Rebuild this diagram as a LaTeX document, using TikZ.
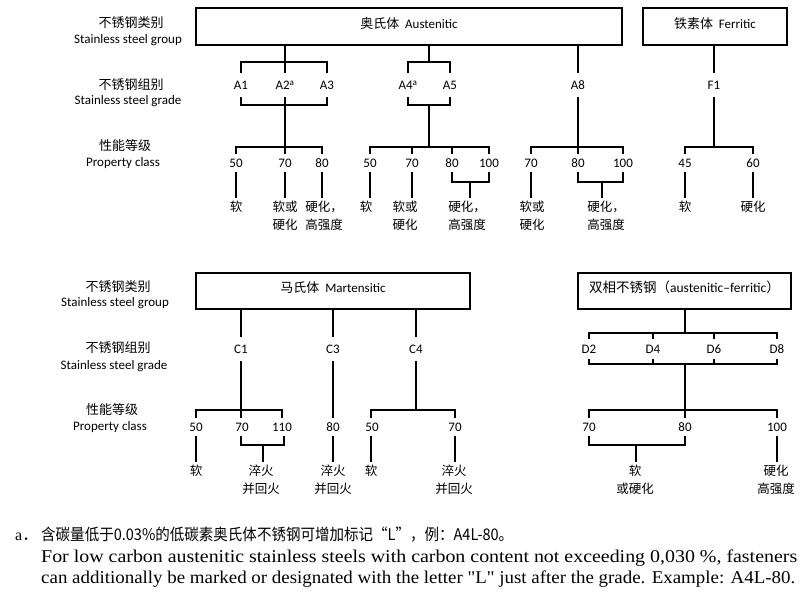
\documentclass[tikz,border=0pt]{standalone}
\usepackage{fontspec}
\usepackage{graphicx}
\setmainfont{Carlito}
\newfontfamily\cjk{Noto Sans CJK SC}
\newfontfamily\fnserif{Liberation Serif}
\begin{document}
\begin{tikzpicture}[x=1pt,y=-1pt,
  lbl/.style={inner sep=0pt, text height=9pt, text depth=2.5pt, font=\fontsize{13}{15}\selectfont},
  cn/.style={inner sep=0pt, font=\cjk\fontsize{13}{15}\selectfont},
  grp/.style={draw, line width=2.6pt, inner sep=0pt, minimum height=37pt, text height=6pt, text depth=3pt, font=\fontsize{13}{15}\selectfont},
  grade/.style={inner sep=0pt, text height=9pt, text depth=0pt, minimum height=24pt, font=\fontsize{13}{15}\selectfont},
  gradeD/.style={grade, minimum height=20pt},
  pc/.style={inner sep=0pt, text height=9pt, text depth=0pt, minimum height=18pt, font=\fontsize{13}{15}\selectfont},
  desc/.style={anchor=north, inner xsep=0pt, inner ysep=3pt, align=center, font=\cjk\fontsize{12.5}{18}\selectfont},
  ln/.style={line width=2pt},
  fn/.style={anchor=base west, inner sep=0pt},
]
\useasboundingbox[fill=white] (0,0) rectangle (800,592);

% ---------- row labels, top ----------
\node[cn]  (g1c) at (131,23)  {不锈钢类别};
\node[lbl] (g1e) at (128,40)  {Stainless steel group};
\node[cn]  (r1c) at (131,85)  {不锈钢组别};
\node[lbl] (r1e) at (128,101) {Stainless steel grade};
\node[cn]  (p1c) at (125,146) {性能等级};
\node[lbl] (p1e) at (123,163) {Property class};

% ---------- group boxes, top ----------
\node[grp, minimum width=426pt] (aus) at (409,26.5) {{\cjk 奥氏体}\hspace{0.45em}Austenitic};
\node[grp, minimum width=144pt] (fer) at (715,26.5) {{\cjk 铁素体}\hspace{0.45em}Ferritic};

% bracket levels
\coordinate (t1) at (0,62);
\coordinate (t2) at (0,105);
\coordinate (t3) at (0,147);
\coordinate (t4) at (0,182);

% grades
\node[grade] (A1) at (241,85) {A1};
\node[grade] (A2) at (285,85) {A2\textsuperscript{a}};
\node[grade] (A3) at (327,85) {A3};
\node[grade] (A4) at (408,85) {A4\textsuperscript{a}};
\node[grade] (A5) at (450,85) {A5};
\node[grade] (A8) at (578,85) {A8};
\node[grade] (F1) at (714,85) {F1};

% property classes
\node[pc] (P1a) at (236,163) {50};
\node[pc] (P1b) at (285,163) {70};
\node[pc] (P1c) at (322,163) {80};
\node[pc] (P2a) at (370,163) {50};
\node[pc] (P2b) at (412,163) {70};
\node[pc] (P2c) at (452,163) {80};
\node[pc] (P2d) at (489,163) {100};
\node[pc] (P3a) at (531,163) {70};
\node[pc] (P3b) at (578,163) {80};
\node[pc] (P3c) at (623,163) {100};
\node[pc] (P4a) at (685,163) {45};
\node[pc] (P4b) at (753,163) {60};

% descriptions
\node[desc] (D1a) at (236,198) {软};
\node[desc] (D1b) at (285,198) {软或\\硬化};
\node[desc] (D1c) at (324,198) {硬化，\\高强度};
\node[desc] (D2a) at (366,198) {软};
\node[desc] (D2b) at (405,198) {软或\\硬化};
\node[desc] (D2c) at (467,198) {硬化，\\高强度};
\node[desc] (D3a) at (532,198) {软或\\硬化};
\node[desc] (D3b) at (606,198) {硬化，\\高强度};
\node[desc] (D4a) at (685,198) {软};
\node[desc] (D4b) at (753,198) {硬化};

% connectors: A1 A2 A3
\draw[ln] (aus.south -| A2) -- (A2.north);
\draw[ln] (A1.north) -- (A1 |- t1) -- (A3 |- t1) -- (A3.north);
\draw[ln] (A1.south) -- (A1 |- t2) -- (A3 |- t2) -- (A3.south);
\draw[ln] (A2.south) -- (P1b.north);
\draw[ln] (P1a.north) -- (P1a |- t3) -- (P1c |- t3) -- (P1c.north);
\draw[ln] (P1a.south) -- (D1a.north);
\draw[ln] (P1b.south) -- (D1b.north);
\draw[ln] (P1c.south) -- (P1c.south |- D1c.north);

% connectors: A4 A5
\coordinate (s2) at (429,62);
\draw[ln] (aus.south -| s2) -- (s2);
\draw[ln] (A4.north) -- (A4 |- t1) -- (A5 |- t1) -- (A5.north);
\draw[ln] (A4.south) -- (A4 |- t2) -- (A5 |- t2) -- (A5.south);
\draw[ln] (s2 |- t2) -- (s2 |- t3);
\draw[ln] (P2a.north) -- (P2a |- t3) -- (P2d |- t3) -- (P2d.north);
\draw[ln] (P2b.north) -- (P2b |- t3);
\draw[ln] (P2c.north) -- (P2c |- t3);
\draw[ln] (P2c.south) -- (P2c |- t4) -- (P2d |- t4) -- (P2d.south);
\coordinate (s2b) at (470,182);
\draw[ln] (P2a.south) -- (P2a.south |- D2a.north);
\draw[ln] (P2b.south) -- (P2b.south |- D2b.north);
\draw[ln] (s2b) -- (s2b |- D2c.north);

% connectors: A8
\draw[ln] (aus.south -| A8) -- (A8.north);
\draw[ln] (A8.south) -- (P3b.north);
\draw[ln] (P3a.north) -- (P3a |- t3) -- (P3c |- t3) -- (P3c.north);
\draw[ln] (P3b.south) -- (P3b |- t4) -- (P3c |- t4) -- (P3c.south);
\coordinate (s3b) at (602,182);
\draw[ln] (P3a.south) -- (P3a.south |- D3a.north);
\draw[ln] (s3b) -- (s3b |- D3b.north);

% connectors: F1
\draw[ln] (fer.south -| F1) -- (F1.north);
\draw[ln] (F1.south) -- (F1 |- t3);
\draw[ln] (P4a.north) -- (P4a |- t3) -- (P4b |- t3) -- (P4b.north);
\draw[ln] (P4a.south) -- (D4a.north);
\draw[ln] (P4b.south) -- (D4b.north);

% ---------- row labels, bottom ----------
\node[cn]  (g2c) at (118,287) {不锈钢类别};
\node[lbl] (g2e) at (115,303) {Stainless steel group};
\node[cn]  (r2c) at (118,348) {不锈钢组别};
\node[lbl] (r2e) at (114,366) {Stainless steel grade};
\node[cn]  (p2c) at (112,410) {性能等级};
\node[lbl] (p2e) at (110,427) {Property class};

% ---------- group boxes, bottom ----------
\node[grp, minimum width=274pt, minimum height=36pt] (mar) at (333,291) {{\cjk 马氏体}\hspace{0.45em}Martensitic};
\node[grp, minimum width=213pt, minimum height=36pt, font=\fontsize{13.5}{15}\selectfont] (dup) at (684.5,291) {{\cjk 双相不锈钢（}austenitic–ferritic{\cjk ）}};

\coordinate (u1) at (0,333);
\coordinate (u2) at (0,364);
\coordinate (u3) at (0,410);
\coordinate (u4) at (0,445);

\node[grade] (C1) at (241,349) {C1};
\node[grade] (C3) at (333,349) {C3};
\node[grade] (C4) at (416,349) {C4};
\node[gradeD] (Dd2) at (589,349) {D2};
\node[gradeD] (Dd4) at (653,349) {D4};
\node[gradeD] (Dd6) at (714,349) {D6};
\node[gradeD] (Dd8) at (777,349) {D8};

\node[pc] (P5a) at (196,427) {50};
\node[pc] (P5b) at (242,427) {70};
\node[pc] (P5c) at (282,427) {110};
\node[pc] (P6)  at (333,427) {80};
\node[pc] (P7a) at (372,427) {50};
\node[pc] (P7b) at (455,427) {70};
\node[pc] (P8a) at (589,427) {70};
\node[pc] (P8b) at (685,427) {80};
\node[pc] (P8c) at (777,427) {100};

\node[desc] (D5a) at (196,462) {软};
\node[desc] (D5b) at (261,462) {淬火\\并回火};
\node[desc] (D6)  at (333,462) {淬火\\并回火};
\node[desc] (D7a) at (371,462) {软};
\node[desc] (D7b) at (454,462) {淬火\\并回火};
\node[desc] (D8a) at (635,462) {软\\或硬化};
\node[desc] (D8b) at (776,462) {硬化\\高强度};

% connectors: C1
\draw[ln] (mar.south -| C1) -- (C1.north);
\draw[ln] (C1.south) -- (P5b.north -| C1);
\draw[ln] (P5a.north) -- (P5a |- u3) -- (P5c.north |- u3) -- (P5c.north);
\coordinate (s5c) at (284,410);
\draw[ln] (P5a.south) -- (D5a.north);
\draw[ln] (P5b.south -| C1) -- (C1 |- u4) -- (s5c |- u4) -- (s5c |- P5c.south);
\coordinate (s5b) at (263,445);
\draw[ln] (s5b) -- (s5b |- D5b.north);

% connectors: C3
\draw[ln] (mar.south -| C3) -- (C3.north);
\draw[ln] (C3.south) -- (P6.north);
\draw[ln] (P6.south) -- (D6.north);

% connectors: C4
\draw[ln] (mar.south -| C4) -- (C4.north);
\draw[ln] (C4.south) -- (C4 |- u3);
\coordinate (s7a) at (371,410);
\draw[ln] (s7a |- P7a.north) -- (s7a) -- (P7b |- u3) -- (P7b.north);
\draw[ln] (s7a |- P7a.south) -- (s7a |- D7a.north);
\draw[ln] (P7b.south) -- (P7b.south |- D7b.north);

% connectors: duplex
\draw[ln] (dup.south -| P8b) -- (P8b |- u1);
\draw[ln] (Dd2.north) -- (Dd2 |- u1) -- (Dd8 |- u1) -- (Dd8.north);
\draw[ln] (Dd4.north) -- (Dd4 |- u1);
\draw[ln] (Dd6.north) -- (Dd6 |- u1);
\draw[ln] (Dd2.south) -- (Dd2 |- u2) -- (Dd8 |- u2) -- (Dd8.south);
\draw[ln] (Dd4.south) -- (Dd4 |- u2);
\draw[ln] (Dd6.south) -- (Dd6 |- u2);
\draw[ln] (P8b |- u2) -- (P8b.north);
\draw[ln] (P8a.north) -- (P8a |- u3) -- (P8c |- u3) -- (P8c.north);
\draw[ln] (P8a.south) -- (P8a |- u4) -- (P8b |- u4) -- (P8b.south);
\coordinate (s8a) at (636,445);
\draw[ln] (s8a) -- (s8a |- D8a.north);
\draw[ln] (P8c.south) -- (P8c.south |- D8b.north);

% ---------- footnote ----------
\node[fn] (fa) at (15,540) {{\fnserif\fontsize{16}{16}\selectfont a}{\cjk\fontsize{16}{16}\selectfont ．}};
\node[fn] (f1) at (41,540) {\resizebox{472pt}{\height}{\cjk\fontsize{16}{16}\selectfont 含碳量低于0.03\%的低碳素奥氏体不锈钢可增加标记“L”，例：A4L-80。}};
\node[fn] (f2) at (41,562) {\resizebox{756pt}{\height}{\fnserif\fontsize{18}{20}\selectfont For low carbon austenitic stainless steels with carbon content not exceeding 0,030 \%, fasteners}};
\node[fn] (f3) at (41,583) {\resizebox{754pt}{\height}{\fnserif\fontsize{18}{20}\selectfont can additionally be marked or designated with the letter "L" just after the grade. Example: A4L-80.}};
\end{tikzpicture}
\end{document}
